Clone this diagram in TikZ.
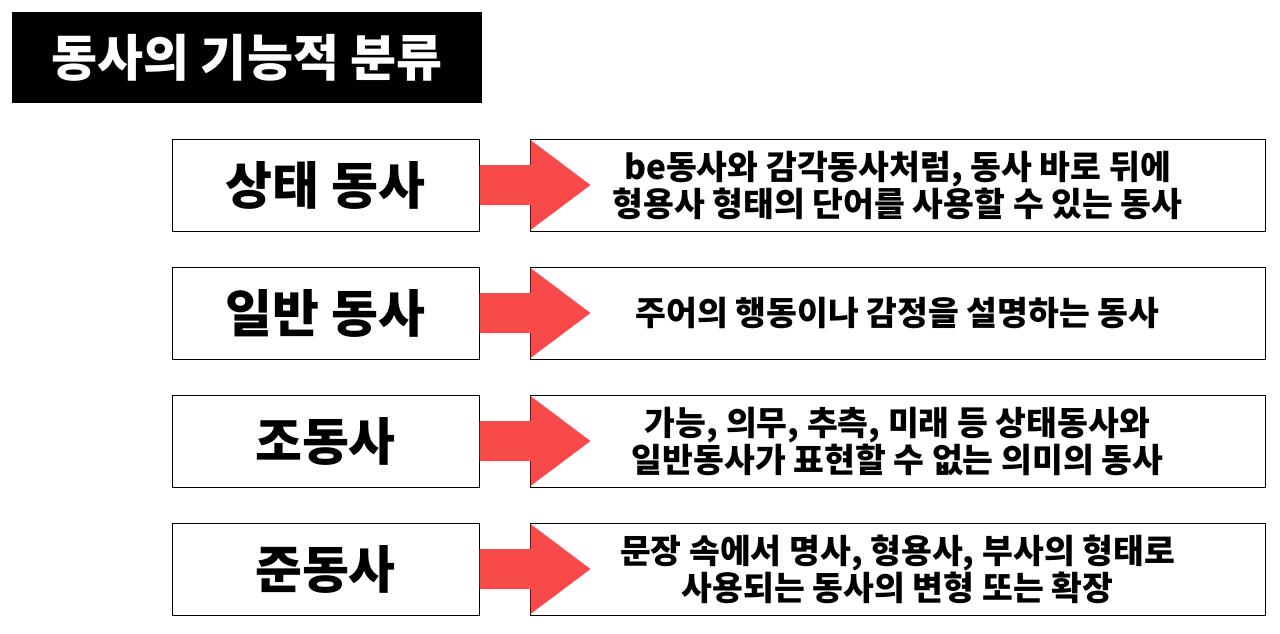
\documentclass[tikz,border=0pt]{standalone}
\usepackage{fontspec}
\setmainfont{Noto Sans CJK KR}
\definecolor{arr}{HTML}{F94A4A}
\begin{document}
\begin{tikzpicture}[x=1pt,y=-1pt,
  lbox/.style={draw=black,line width=1pt,minimum width=307pt,minimum height=92pt,font=\bfseries\fontsize{51}{56}\selectfont,inner sep=0},
  rbox/.style={draw=black,line width=1pt,minimum width=735pt,minimum height=92pt,font=\bfseries\fontsize{33.5}{37}\selectfont,align=center,inner sep=0},
  arrw/.style={fill=arr,draw=none}]
\useasboundingbox (0,0) rectangle (1280,633);
\node[fill=black,minimum width=470pt,minimum height=91pt,text=white,font=\bfseries\fontsize{50}{56}\selectfont,inner sep=0] (t) at (247,57.5) {동사의 기능적 분류};
\foreach \y/\a/\b/\n in {185/상태 동사/{be동사와 감각동사처럼, 동사 바로 뒤에\\형용사 형태의 단어를 사용할 수 있는 동사}/1,
  313/일반 동사/{주어의 행동이나 감정을 설명하는 동사}/2,
  441/조동사/{가능, 의무, 추측, 미래 등 상태동사와\\일반동사가 표현할 수 없는 의미의 동사}/3,
  569/준동사/{문장 속에서 명사, 형용사, 부사의 형태로\\사용되는 동사의 변형 또는 확장}/4}{
  \node[lbox] (l\n) at (325.5,\y) {\a};
  \node[rbox] (r\n) at (897.5,\y) {\b};
  \fill[arr] (l\n.east) ++(0,-20) -- ++(51,0) -- ++(0,-25) -- ++(60,45) -- ++(-60,45) -- ++(0,-25) -- ++(-51,0) -- cycle;
}
\end{tikzpicture}
\end{document}
